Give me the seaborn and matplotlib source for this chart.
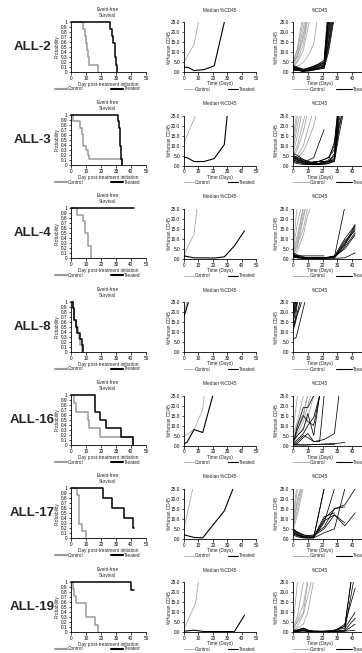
import numpy as np
import pandas as pd
import matplotlib
matplotlib.use("Agg")
import matplotlib.pyplot as plt
import seaborn as sns
from matplotlib.lines import Line2D

# ---------------- data ----------------
row_labels = ["ALL-2", "ALL-3", "ALL-4", "ALL-8", "ALL-16", "ALL-17", "ALL-19"]

# Event-free survival (step curves): times and survival levels
ALL2_surv_ctrl_t = [0, 8, 9, 10, 10.5, 11, 12, 18]
ALL2_surv_ctrl_s = [1, .857, .714, .571, .429, .286, .143, 0]
ALL2_surv_trt_t = [0, 26, 27, 28, 29, 29.5, 30, 30.5]
ALL2_surv_trt_s = [1, .857, .714, .571, .429, .286, .143, 0]

ALL3_surv_ctrl_t = [0, 1, 6, 7, 8, 10, 11, 12, 34]
ALL3_surv_ctrl_s = [1, .875, .75, .625, .375, .3, .2, .125, 0]
ALL3_surv_trt_t = [0, 31, 32, 32.5, 33, 33.5, 34]
ALL3_surv_trt_s = [1, .875, .75, .375, .25, .125, 0]

ALL4_surv_ctrl_t = [0, 4, 8, 9, 11, 13]
ALL4_surv_ctrl_s = [1, .875, .75, .5, .25, 0]
ALL4_surv_trt_t = [0, 42]
ALL4_surv_trt_s = [1, 1]

ALL8_surv_ctrl_t = [0, 1, 2, 3.5, 4.5, 5.5, 6, 7]
ALL8_surv_ctrl_s = [1, .875, .625, .5, .375, .25, .125, 0]
ALL8_surv_trt_t = [0, 1.5, 2, 3, 4, 6, 7, 8]
ALL8_surv_trt_s = [1, .875, .625, .5, .375, .25, .125, 0]

ALL16_surv_ctrl_t = [0, 2, 3, 11, 12, 19, 41]
ALL16_surv_ctrl_s = [1, .833, .667, .5, .333, .167, 0]
ALL16_surv_trt_t = [0, 16, 19, 23, 33, 41]
ALL16_surv_trt_s = [1, .667, .5, .333, .167, 0]

ALL17_surv_ctrl_t = [0, 4, 5, 5.5, 7, 10]
ALL17_surv_ctrl_s = [1, .857, .714, .286, .143, 0]
ALL17_surv_trt_t = [0, 21, 27, 35, 41, 42]
ALL17_surv_trt_s = [1, .8, .6, .4, .2, .2]

ALL19_surv_ctrl_t = [0, 1, 2, 3.5, 10, 16, 18]
ALL19_surv_ctrl_s = [1, .857, .714, .571, .286, .143, 0]
ALL19_surv_trt_t = [0, 40, 42]
ALL19_surv_trt_s = [1, .833, .833]

# Median %CD45
ALL2_med_ctrl_d = [0, 7, 10]
ALL2_med_ctrl_v = [5, 14, 25]
ALL2_med_trt_d = [0, 3, 7, 14, 21, 28]
ALL2_med_trt_v = [2.5, 2.4, 0.8, 1.3, 3.2, 25]

ALL3_med_ctrl_d = [0, 8]
ALL3_med_ctrl_v = [11.5, 25]
ALL3_med_trt_d = [0, 2, 7, 14, 21, 28, 30]
ALL3_med_trt_v = [4, 4, 2, 2, 3.5, 10.5, 25]

ALL4_med_ctrl_d = [0, 7, 9]
ALL4_med_ctrl_v = [2, 12.5, 25]
ALL4_med_trt_d = [0, 7, 14, 21, 28, 35, 42]
ALL4_med_trt_v = [1.5, 0.5, 0.5, 0.4, 1, 6.5, 14]

ALL8_med_ctrl_d = [0, 2]
ALL8_med_ctrl_v = [19, 25]
ALL8_med_trt_d = [0, 1, 3]
ALL8_med_trt_v = [18, 20, 25]

ALL16_med_ctrl_d = [0, 7, 13, 14]
ALL16_med_ctrl_v = [4.5, 8, 18, 25]
ALL16_med_trt_d = [0, 2, 7, 13, 20]
ALL16_med_trt_v = [1, 1.5, 8, 6.5, 25]

ALL17_med_ctrl_d = [0, 6]
ALL17_med_ctrl_v = [5, 25]
ALL17_med_trt_d = [0, 7, 13, 28, 34]
ALL17_med_trt_v = [2, 0.7, 0.5, 14, 25]

ALL19_med_ctrl_d = [0, 8, 10]
ALL19_med_ctrl_v = [1.5, 14.5, 25]
ALL19_med_trt_d = [0, 7, 14, 21, 35, 42]
ALL19_med_trt_v = [0.5, 1, 0.3, 0.3, 0.3, 8.5]

# Individual %CD45 (one list per mouse, values at the row's days)
ALL2_days = [0, 3, 7, 10, 14, 17, 21, 24, 28]
ALL2_ind_ctrl = [
    [4.5, 12, 30], [4, 9, 22, 35], [3.5, 8, 19, 30], [5, 11, 26],
    [3, 6, 14, 27], [4, 8, 17, 28], [2.5, 5, 11, 22, 35], [2, 3, 5, 8, 14, 30],
]
ALL2_ind_trt = [
    [3, 2, 1, 1.5, 2, 3, 4, 28], [2.5, 1.5, 0.5, 1, 1.5, 2.5, 3, 20, 40],
    [2, 2, 1, 1, 2, 3, 5, 30], [1.5, 1, 0.5, 1, 1.5, 2, 2.5, 15, 35],
    [3.5, 2.5, 1.5, 2, 3, 4, 6, 35], [1, 1, 0.5, 0.5, 1, 1.5, 2, 12, 30],
    [2, 1.5, 1, 1.5, 2.5, 3.5, 4.5, 25, 40], [2.5, 2, 1, 2, 3, 4, 5, 22, 38],
    [1.5, 1.5, 0.8, 1, 2, 2, 3, 18, 36], [3, 2, 1.2, 1.8, 2.5, 3, 3.5, 26],
    [2, 1, 0.5, 0.8, 1.2, 1.5, 2, 10, 28], [1, 0.8, 0.5, 1, 1.5, 2, 3, 14, 32],
]

ALL3_days = [0, 3, 7, 10, 14, 17, 21, 24, 28, 31, 35]
ALL3_ind_ctrl = [
    [12, 30], [8, 20, 35], [6, 15, 30], [10, 25], [5, 10, 22, 30],
    [4, 8, 17, 27], [3, 5, 10, 18, 28], [2, 4, 7, 12, 20, 30],
]
ALL3_ind_trt = [
    [5, 4, 2, 1.5, 1, 1, 2, 2, 3, 25], [6, 5, 3, 2, 1.5, 2, 3, 4, 8, 30],
    [4, 3, 1, 0.5, 0.5, 1, 1.5, 2, 5, 22, 35], [3, 2, 1, 1, 2, 2, 2, 2, 2, 30],
    [4, 3, 2, 2.5, 4, 10, 18], [2, 1.5, 1, 0.5, 1, 1, 1, 1.5, 4, 20, 30],
    [5, 4, 3, 2, 1, 1, 1.5, 2, 6, 28], [3.5, 2.5, 2, 1, 0.5, 0.5, 1, 1, 3, 18, 32],
    [4.5, 3.5, 2.5, 1.5, 1, 2, 3, 4, 10, 35], [1.5, 1, 0.5, 0.5, 0.5, 0.5, 0.5, 1, 2, 15, 30],
    [2.5, 2, 1.5, 1, 1.5, 2, 2, 2.5, 12, 30],
]

ALL4_days = [0, 3, 7, 10, 14, 21, 28, 35, 42]
ALL4_ind_ctrl = [
    [5, 28], [4, 18, 30], [3, 12, 26], [2, 8, 22, 30],
    [3, 10, 25], [1.5, 6, 20, 30], [2.5, 7, 15, 26], [1, 4, 12, 22, 30],
]
ALL4_ind_trt = [
    [2, 1, 0.5, 0.5, 0.5, 0.5, 1, 8, 16], [1.5, 1, 0.3, 0.3, 0.3, 0.5, 1.5, 10, 17],
    [2.5, 1.5, 0.5, 0.5, 0.5, 0.5, 1, 26], [1, 0.5, 0.3, 0.3, 0.3, 0.3, 0.5, 6, 13],
    [3, 2, 1, 0.5, 0.5, 0.5, 1, 7, 15], [1.5, 1, 0.5, 0.3, 0.3, 0.3, 0.3, 0.5, 3],
    [2, 1.5, 1.5, 1.5, 1.5, 1.5], [1, 0.5, 0.3, 0.3, 0.3, 0.3, 0.8, 9, 14],
    [2, 1, 0.5, 0.5, 0.5, 0.5, 1.2, 5, 12], [1.5, 1, 0.5, 0.5, 0.5, 0.5, 1, 7, 17],
]

ALL8_days = [0, 1, 2, 3, 5, 6, 8]
ALL8_ind_ctrl = [[19, 25], [16, 22, 27], [20, 26], [18, 23, 28]]
ALL8_ind_trt = [
    [6.5, 7, 7.2, 10, 16, 19, 25], [11, 13, 16, 20, 26], [12, 14, 19, 25],
    [15, 18, 22, 27], [17, 21, 26], [18, 20, 23, 25.5], [20, 23, 26],
    [13, 15, 17, 19, 23, 26], [22, 25],
]

ALL16_days = [0, 3, 7, 10, 14, 18, 21, 28, 31, 35]
ALL16_ind_ctrl = [
    [7, 25], [5, 10, 16, 25], [4, 8, 14, 26], [3, 6, 12, 20, 30],
    [6, 12, 25], [2, 5, 9, 14, 25],
]
ALL16_ind_trt = [
    [0.5, 10, 19, 19, 25], [1, 8, 15, 12, 10, 25], [2, 5, 8, 16, 5, 25],
    [0.3, 2, 5, 4, 2, 2.5, 3, 6, 25], [0.2, 0.2, 0.3, 0.3, 0.5, 0.6, 0.8, 1, 1.2, 1.5],
    [0.3, 0.5, 0.3, 0.3, 0.5, 0.5, 0.5, 0.5], [1, 3, 6, 10, 14, 25],
    [0.5, 1, 4, 6, 2, 2, 25],
]

ALL17_days = [0, 3, 7, 10, 14, 21, 28, 35, 42]
ALL17_ind_ctrl = [[10, 30], [8, 25], [6, 20, 30], [5, 15, 28], [7, 18, 30], [4, 12, 26]]
ALL17_ind_trt = [
    [5, 3, 1.5, 1, 1, 25], [4, 2.5, 1, 0.5, 0.5, 25], [3.5, 2, 1, 1, 1, 8, 25],
    [3, 2, 1, 0.5, 1, 10, 15, 17, 25], [2.5, 1.5, 0.5, 0.5, 0.5, 9, 12, 6.5, 13],
    [4.5, 3, 2, 1.5, 1.5, 5, 12, 8], [3, 2, 1, 0.5, 0.5, 3, 5, 25],
    [2, 1, 0.5, 0.5, 1, 11, 13], [5, 3.5, 2, 1.5, 2, 6, 15, 16],
]

ALL19_days = [0, 3, 7, 10, 14, 21, 28, 35, 42]
ALL19_ind_ctrl = [
    [3, 25], [1, 6, 14, 26], [0.5, 3, 9, 18, 30], [1.5, 5, 10, 25],
    [0.5, 2, 4, 10, 26], [2, 8, 25],
]
ALL19_ind_trt = [
    [0.5, 1, 2, 1, 0.5, 0.5, 1, 3, 40], [0.5, 0.8, 1.5, 0.5, 0.3, 0.3, 0.5, 3, 40],
    [0.3, 0.5, 1, 0.5, 0.3, 0.2, 0.5, 1, 30], [1, 1, 2, 1, 0.5, 0.5, 1, 2, 10],
    [0.5, 0.5, 1, 0.5, 0.3, 0.3, 0.3, 1, 7], [0.3, 0.3, 0.5, 0.3, 0.2, 0.2, 0.3, 0.5, 4],
    [0.5, 0.5, 1, 0.5, 0.5, 0.3, 0.5, 4, 22], [0.8, 1, 2, 1, 0.5, 0.3, 0.5, 0.5, 1],
]

surv_ticks = [0, .1, .2, .3, .4, .5, .6, .7, .8, .9, 1]
surv_tick_labels = ["0", "0.1", "0.2", "0.3", "0.4", "0.5", "0.6", "0.7", "0.8", "0.9", "1"]
cd45_ticks = [0, 5, 10, 15, 20, 25]
day_ticks = [0, 10, 20, 30, 40, 50]

rows = [
    (ALL2_surv_ctrl_t, ALL2_surv_ctrl_s, ALL2_surv_trt_t, ALL2_surv_trt_s,
     ALL2_med_ctrl_d, ALL2_med_ctrl_v, ALL2_med_trt_d, ALL2_med_trt_v,
     ALL2_days, ALL2_ind_ctrl, ALL2_ind_trt),
    (ALL3_surv_ctrl_t, ALL3_surv_ctrl_s, ALL3_surv_trt_t, ALL3_surv_trt_s,
     ALL3_med_ctrl_d, ALL3_med_ctrl_v, ALL3_med_trt_d, ALL3_med_trt_v,
     ALL3_days, ALL3_ind_ctrl, ALL3_ind_trt),
    (ALL4_surv_ctrl_t, ALL4_surv_ctrl_s, ALL4_surv_trt_t, ALL4_surv_trt_s,
     ALL4_med_ctrl_d, ALL4_med_ctrl_v, ALL4_med_trt_d, ALL4_med_trt_v,
     ALL4_days, ALL4_ind_ctrl, ALL4_ind_trt),
    (ALL8_surv_ctrl_t, ALL8_surv_ctrl_s, ALL8_surv_trt_t, ALL8_surv_trt_s,
     ALL8_med_ctrl_d, ALL8_med_ctrl_v, ALL8_med_trt_d, ALL8_med_trt_v,
     ALL8_days, ALL8_ind_ctrl, ALL8_ind_trt),
    (ALL16_surv_ctrl_t, ALL16_surv_ctrl_s, ALL16_surv_trt_t, ALL16_surv_trt_s,
     ALL16_med_ctrl_d, ALL16_med_ctrl_v, ALL16_med_trt_d, ALL16_med_trt_v,
     ALL16_days, ALL16_ind_ctrl, ALL16_ind_trt),
    (ALL17_surv_ctrl_t, ALL17_surv_ctrl_s, ALL17_surv_trt_t, ALL17_surv_trt_s,
     ALL17_med_ctrl_d, ALL17_med_ctrl_v, ALL17_med_trt_d, ALL17_med_trt_v,
     ALL17_days, ALL17_ind_ctrl, ALL17_ind_trt),
    (ALL19_surv_ctrl_t, ALL19_surv_ctrl_s, ALL19_surv_trt_t, ALL19_surv_trt_s,
     ALL19_med_ctrl_d, ALL19_med_ctrl_v, ALL19_med_trt_d, ALL19_med_trt_v,
     ALL19_days, ALL19_ind_ctrl, ALL19_ind_trt),
]

# ---------------- style ----------------
sns.set_style("ticks")
plt.rcParams["font.family"] = ["Liberation Sans", "DejaVu Sans"]
FS = 3.4
GRAY_S = "#9a9a9a"
GRAY_M = "#a8a8a8"
GRAY_I = "#a0a0a0"
BLACK = "#000000"

W, H = 362, 653
fig = plt.figure(figsize=(W / 100, H / 100), dpi=100)


def rect(l, t, r, b):
    return [l / W, 1 - b / H, (r - l) / W, (b - t) / H]


def style_axes(ax):
    sns.despine(ax=ax)
    for s in ("left", "bottom"):
        ax.spines[s].set_linewidth(0.6)
        ax.spines[s].set_color("black")
    ax.tick_params(axis="both", direction="out", length=1.8, width=0.5,
                   labelsize=FS, pad=1, colors="black")


def pair_df(xc, yc, xt, yt, xname, yname):
    d1 = pd.DataFrame({xname: xc, yname: yc, "group": "Control"})
    d2 = pd.DataFrame({xname: xt, yname: yt, "group": "Treated"})
    return pd.concat([d1, d2], ignore_index=True)


def ind_df(days, ctrl, trt):
    recs = []
    for grp, curves in (("Control", ctrl), ("Treated", trt)):
        for k, vals in enumerate(curves):
            for d, v in zip(days, vals):
                recs.append((grp, k, d, v))
    return pd.DataFrame(recs, columns=["group", "unit", "day", "value"])


def add_legend(ax, x0, y0, lw_c, lw_t, col_c, col_t, hl, cs):
    handles = [Line2D([], [], color=col_c, lw=lw_c), Line2D([], [], color=col_t, lw=lw_t)]
    ax.legend(handles, ["Control", "Treated"], ncol=2, loc="center left",
              bbox_to_anchor=(x0, y0), frameon=False, fontsize=FS,
              handlelength=hl, handletextpad=0.15, columnspacing=cs,
              borderpad=0, borderaxespad=0)


PITCH = 93.33
for i, (label, r) in enumerate(zip(row_labels, rows)):
    (sct, scs, stt, sts, mcd, mcv, mtd, mtv, days, ictrl, itrt) = r
    top = 21.7 + i * PITCH
    bot = top + 50

    fig.text(32.5 / W, 1 - (top + 25) / H, label, ha="center", va="center",
             fontsize=9.5, fontweight="bold")

    # --- survival
    ax1 = fig.add_axes(rect(71, top, 146, bot))
    sdf = pair_df(sct, scs, stt, sts, "time", "surv")
    sns.lineplot(data=sdf, x="time", y="surv", hue="group",
                 hue_order=["Control", "Treated"],
                 palette={"Control": GRAY_S, "Treated": BLACK},
                 estimator=None, sort=False, drawstyle="steps-post",
                 linewidth=1.1, legend=False, clip_on=False, ax=ax1)
    ax1.set_xlim(0, 50)
    ax1.set_ylim(0, 1)
    ax1.set_xticks(day_ticks)
    ax1.set_yticks(surv_ticks)
    ax1.set_yticklabels(surv_tick_labels)
    style_axes(ax1)
    ax1.set_xlabel("Day post-treatment initiation", fontsize=FS)
    ax1.set_ylabel("Probability", fontsize=FS)
    ax1.xaxis.set_label_coords(0.5, -0.2)
    ax1.yaxis.set_label_coords(-0.15, 0.5)
    ax1.text(0.49, 1.19, "Event-free\nSurvival", transform=ax1.transAxes,
             ha="center", va="center", fontsize=FS, linespacing=1.3)
    add_legend(ax1, -0.22, -0.34, 1.5, 1.5, GRAY_S, BLACK, 2.6, 5.8)

    # --- median
    ax2 = fig.add_axes(rect(184, top + 0.5, 256, bot + 0.5))
    mdf = pair_df(mcd, mcv, mtd, mtv, "day", "value")
    sns.lineplot(data=mdf, x="day", y="value", hue="group",
                 hue_order=["Control", "Treated"],
                 palette={"Control": GRAY_M, "Treated": BLACK},
                 estimator=None, sort=False, linewidth=0.8, legend=False, ax=ax2)
    ax2.lines[0].set_linewidth(0.6)
    ax2.set_xlim(0, 50)
    ax2.set_ylim(0, 25)
    ax2.set_xticks(day_ticks)
    ax2.set_yticks(cd45_ticks)
    ax2.set_yticklabels([f"{v:.1f}" for v in cd45_ticks])
    style_axes(ax2)
    ax2.set_xlabel("Time (Days)", fontsize=FS)
    ax2.set_ylabel("%Human CD45", fontsize=FS)
    ax2.xaxis.set_label_coords(0.5, -0.18)
    ax2.yaxis.set_label_coords(-0.17, 0.5)
    ax2.text(0.5, 1.24, "Median %CD45", transform=ax2.transAxes,
             ha="center", va="center", fontsize=FS)
    add_legend(ax2, 0.0, -0.34, 0.6, 0.8, GRAY_M, BLACK, 2.2, 3.6)

    # --- individual
    ax3 = fig.add_axes(rect(293, top + 0.5, 367, bot + 0.5))
    idf = ind_df(days, ictrl, itrt)
    sns.lineplot(data=idf, x="day", y="value", hue="group", units="unit",
                 hue_order=["Control", "Treated"],
                 palette={"Control": GRAY_I, "Treated": BLACK},
                 estimator=None, sort=False, linewidth=0.55, legend=False, ax=ax3)
    ax3.set_xlim(0, 50)
    ax3.set_ylim(0, 25)
    ax3.set_xticks(day_ticks)
    ax3.set_yticks(cd45_ticks)
    ax3.set_yticklabels([f"{v:.1f}" for v in cd45_ticks])
    style_axes(ax3)
    ax3.set_xlabel("Time (Days)", fontsize=FS)
    ax3.set_ylabel("%Human CD45", fontsize=FS)
    ax3.xaxis.set_label_coords(0.365, -0.18)
    ax3.yaxis.set_label_coords(-0.19, 0.5)
    ax3.text(0.365, 1.24, "%CD45", transform=ax3.transAxes,
             ha="center", va="center", fontsize=FS)
    add_legend(ax3, 0.0, -0.34, 0.6, 0.8, GRAY_I, BLACK, 3.4, 2.2)

fig.savefig("out.png", dpi=100)
